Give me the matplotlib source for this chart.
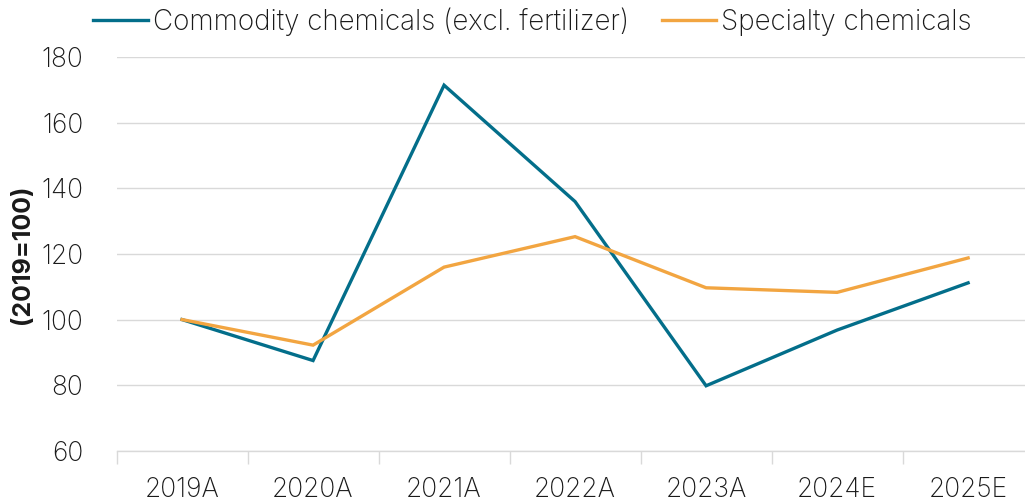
import numpy as np
import matplotlib.pyplot as plt

### chart data
YEARS = ['2019A', '2020A', '2021A', '2022A', '2023A', '2024E', '2025E']
COMMODITY = [100, 87.5, 171.5, 136, 79.8, 96.8, 111.2]      # commodity chemicals (excl. fertilizer)
SPECIALTY = [100, 92.2, 116, 125.3, 109.7, 108.3, 118.8]    # specialty chemicals

TEAL = '#036e8a'
ORANGE = '#f2a541'
GRID = '#d9d9d9'
TXT = '#1a1a1a'

plt.rcParams['font.family'] = ['Inter', 'DejaVu Sans']


def main():
    fig = plt.figure(figsize=(10.25, 5.03), dpi=100)
    ax = fig.add_axes([0.1137, 0.104, 0.8947, 0.782])

    x = np.arange(len(YEARS))
    ax.plot(x, COMMODITY, color=TEAL, lw=2.4, label='Commodity chemicals (excl. fertilizer)', solid_joinstyle='miter')
    ax.plot(x, SPECIALTY, color=ORANGE, lw=2.4, label='Specialty chemicals', solid_joinstyle='miter')

    ax.set_xlim(-0.5, len(YEARS) - 0.5)
    ax.set_ylim(60, 180)
    ax.set_yticks(range(60, 181, 20))
    ax.grid(axis='y', color=GRID, lw=1)
    ax.set_axisbelow(True)

    for s in ['top', 'right', 'left']:
        ax.spines[s].set_visible(False)
    ax.spines['bottom'].set_color(GRID)
    ax.spines['bottom'].set_linewidth(1)

    # category labels centred, tick marks on the boundaries
    ax.set_xticks(x)
    ax.set_xticklabels(YEARS)
    ax.set_xticks(np.arange(-0.5, len(YEARS), 1), minor=True)
    ax.tick_params(axis='x', which='major', length=0, pad=19, labelsize=19, labelcolor=TXT)
    ax.tick_params(axis='x', which='minor', length=9, color=GRID, width=1)
    ax.tick_params(axis='y', length=0, pad=24, labelsize=19, labelcolor=TXT)
    for lab in ax.get_xticklabels() + ax.get_yticklabels():
        lab.set_fontweight('light')

    ax.set_ylabel('(2019=100)', fontsize=18, fontweight='bold', color=TXT, labelpad=5)

    leg = ax.legend(loc='upper left', bbox_to_anchor=(-0.0525, 1.19), ncol=2, frameon=False,
                    handlelength=1.95, handletextpad=0.18, columnspacing=1.2,
                    prop={'weight': 'light', 'size': 20})
    for t in leg.get_texts():
        t.set_color(TXT)

    fig.savefig('out.png', dpi=100, facecolor='white')


if __name__ == "__main__":
    main()
